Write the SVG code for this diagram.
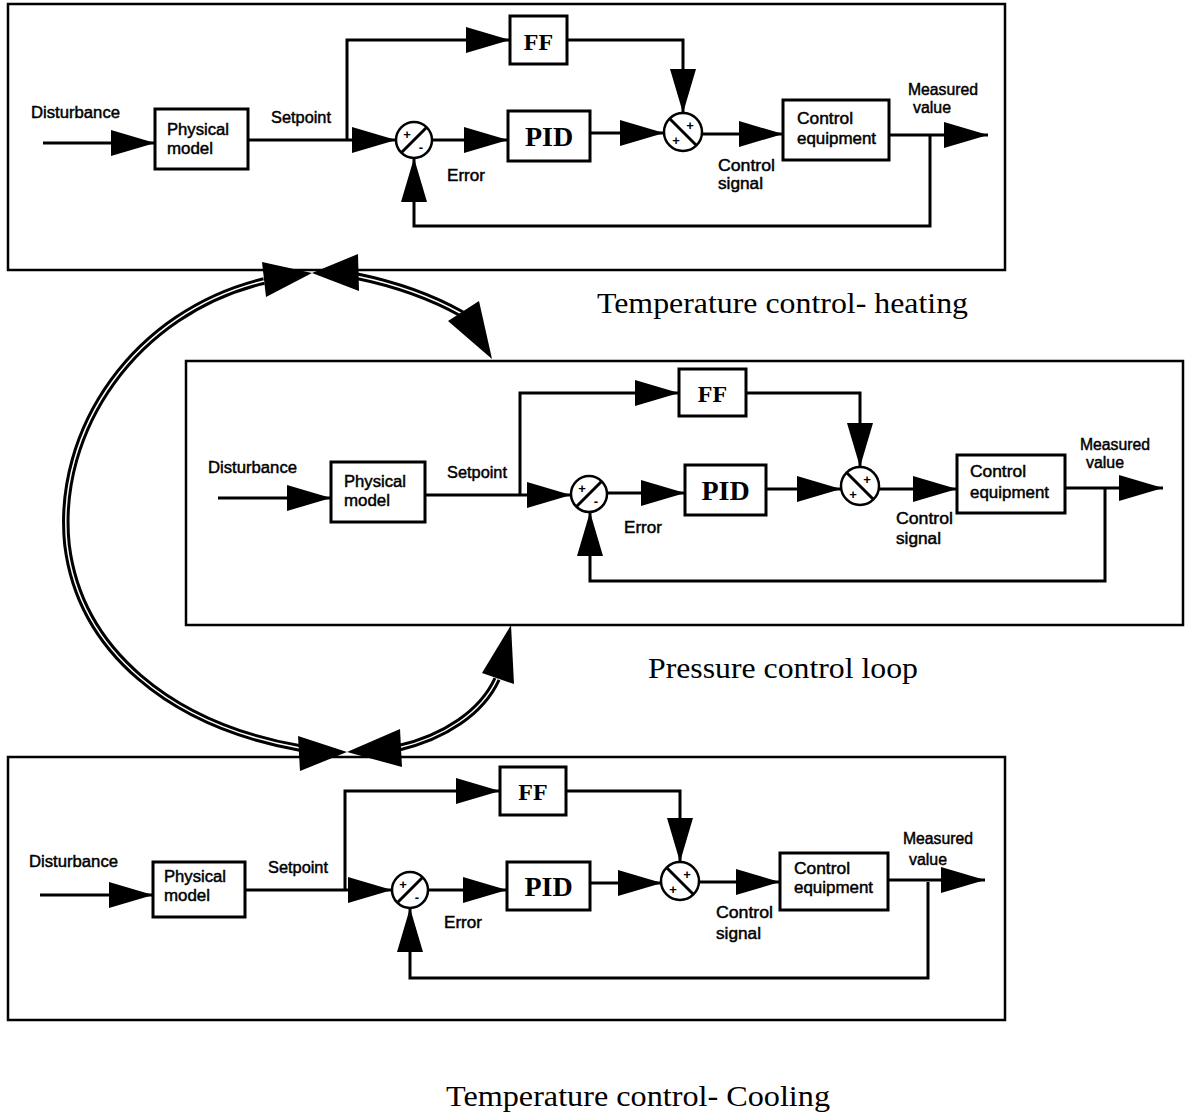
<svg xmlns="http://www.w3.org/2000/svg" width="1186" height="1116" viewBox="0 0 1186 1116">
  <defs>
    <marker id="tri" viewBox="0 0 44 26" refX="44" refY="13" markerWidth="44" markerHeight="26" markerUnits="userSpaceOnUse" orient="auto">
      <path d="M0,0 L44,13 L0,26 Z" fill="#000"/>
    </marker>
    <style>
      .frame { fill: none; stroke: #000; stroke-width: 2.5; }
      .box { fill: #fff; stroke: #000; stroke-width: 3; }
      .arrow { fill: none; stroke: #000; stroke-width: 3; marker-end: url(#tri); }
      .sum { fill: #fff; stroke: #000; stroke-width: 2.5; }
      .slash { stroke: #000; stroke-width: 3; }
      .lbl { font-family: "Liberation Sans", Arial, sans-serif; font-size: 16px; fill: #000; stroke: #000; stroke-width: 0.45; }
      .blk { font-family: "Liberation Serif", "Times New Roman", serif; font-weight: bold; fill: #000; text-anchor: middle; }
      .sign { font-family: "Liberation Sans", Arial, sans-serif; font-size: 13px; font-weight: bold; fill: #000; text-anchor: middle; }
      .title { font-family: "Liberation Serif", "Times New Roman", serif; font-size: 29px; fill: #000; }
      .rail { fill: none; stroke: #000; stroke-width: 7.5; }
      .gap { fill: none; stroke: #fff; stroke-width: 1.5; }
    </style>
  </defs>
  <rect width="1186" height="1116" fill="#fff"/>

  <!-- ===== Temperature control - heating ===== -->
  <g id="heating">
    <rect class="frame" x="8" y="4" width="997" height="266"/>
    <g id="h-connectors">
      <line class="arrow" x1="43" y1="143" x2="155" y2="143"/>
      <line class="arrow" x1="248" y1="140" x2="396" y2="140"/>
      <polyline class="arrow" points="347,140 347,40 510,40"/>
      <polyline class="arrow" points="567,40 683,40 683,113"/>
      <polyline class="arrow" points="930,135 930,226 414,226 414,158"/>
      <line class="arrow" x1="432" y1="140" x2="508" y2="140"/>
      <line class="arrow" x1="590" y1="133" x2="664" y2="133"/>
      <line class="arrow" x1="702" y1="134" x2="783" y2="134"/>
      <line class="arrow" x1="889" y1="135" x2="988" y2="135"/>
    </g>
    <text class="lbl" x="31" y="118" textLength="89" lengthAdjust="spacingAndGlyphs">Disturbance</text>
    <g id="h-model">
      <rect class="box" x="155" y="109" width="93" height="60"/>
      <text class="lbl" x="167" y="135" textLength="62" lengthAdjust="spacingAndGlyphs">Physical</text>
      <text class="lbl" x="167" y="154" textLength="46" lengthAdjust="spacingAndGlyphs">model</text>
    </g>
    <text class="lbl" x="271" y="123" textLength="60" lengthAdjust="spacingAndGlyphs">Setpoint</text>
    <g id="h-ff">
      <rect class="box" x="510" y="16" width="57" height="48"/>
      <text class="blk" x="538.5" y="50" font-size="24">FF</text>
    </g>
    <g id="h-err">
      <circle class="sum" cx="414" cy="140" r="18"/>
      <line class="slash" x1="401" y1="153" x2="427" y2="127"/>
      <text class="sign" x="407" y="139">+</text>
      <text class="sign" x="421" y="152">-</text>
    </g>
    <text class="lbl" x="447" y="181" textLength="38" lengthAdjust="spacingAndGlyphs">Error</text>
    <g id="h-pid">
      <rect class="box" x="508" y="111" width="82" height="50"/>
      <text class="blk" x="549" y="146" font-size="28">PID</text>
    </g>
    <g id="h-add">
      <circle class="sum" cx="683" cy="132" r="19"/>
      <line class="slash" x1="670" y1="119" x2="696" y2="145"/>
      <text class="sign" x="690" y="130">+</text>
      <text class="sign" x="676" y="145">+</text>
    </g>
    <text class="lbl" x="718" y="171" textLength="57" lengthAdjust="spacingAndGlyphs">Control</text>
    <text class="lbl" x="718" y="189" textLength="45" lengthAdjust="spacingAndGlyphs">signal</text>
    <g id="h-equip">
      <rect class="box" x="783" y="100" width="106" height="60"/>
      <text class="lbl" x="797" y="124" textLength="56" lengthAdjust="spacingAndGlyphs">Control</text>
      <text class="lbl" x="797" y="144" textLength="79" lengthAdjust="spacingAndGlyphs">equipment</text>
    </g>
    <text class="lbl" x="908" y="95" textLength="70" lengthAdjust="spacingAndGlyphs">Measured</text>
    <text class="lbl" x="913" y="113" textLength="38" lengthAdjust="spacingAndGlyphs">value</text>
    <text class="title" x="597" y="313" textLength="371" lengthAdjust="spacingAndGlyphs">Temperature control- heating</text>
  </g>

  <!-- ===== Pressure control loop ===== -->
  <g id="pressure">
    <rect class="frame" x="186" y="361" width="997" height="264"/>
    <g id="p-connectors">
      <line class="arrow" x1="218" y1="498" x2="331" y2="498"/>
      <line class="arrow" x1="425" y1="495" x2="571" y2="495"/>
      <polyline class="arrow" points="520,495 520,393 679,393"/>
      <polyline class="arrow" points="746,393 860,393 860,467"/>
      <polyline class="arrow" points="1105,488 1105,581 590,581 590,512"/>
      <line class="arrow" x1="607" y1="493" x2="685" y2="493"/>
      <line class="arrow" x1="766" y1="489" x2="841" y2="489"/>
      <line class="arrow" x1="879" y1="489" x2="957" y2="489"/>
      <line class="arrow" x1="1065" y1="488" x2="1163" y2="488"/>
    </g>
    <text class="lbl" x="208" y="473" textLength="89" lengthAdjust="spacingAndGlyphs">Disturbance</text>
    <g id="p-model">
      <rect class="box" x="331" y="462" width="94" height="60"/>
      <text class="lbl" x="344" y="487" textLength="62" lengthAdjust="spacingAndGlyphs">Physical</text>
      <text class="lbl" x="344" y="506" textLength="46" lengthAdjust="spacingAndGlyphs">model</text>
    </g>
    <text class="lbl" x="447" y="478" textLength="60" lengthAdjust="spacingAndGlyphs">Setpoint</text>
    <g id="p-ff">
      <rect class="box" x="679" y="369" width="67" height="47"/>
      <text class="blk" x="712.5" y="402" font-size="24">FF</text>
    </g>
    <g id="p-err">
      <circle class="sum" cx="589" cy="494" r="18"/>
      <line class="slash" x1="576" y1="507" x2="602" y2="481"/>
      <text class="sign" x="582" y="493">+</text>
      <text class="sign" x="596" y="506">-</text>
    </g>
    <text class="lbl" x="624" y="533" textLength="38" lengthAdjust="spacingAndGlyphs">Error</text>
    <g id="p-pid">
      <rect class="box" x="685" y="465" width="81" height="50"/>
      <text class="blk" x="725.5" y="500" font-size="28">PID</text>
    </g>
    <g id="p-add">
      <circle class="sum" cx="860" cy="486" r="19"/>
      <line class="slash" x1="847" y1="473" x2="873" y2="499"/>
      <text class="sign" x="867" y="484">+</text>
      <text class="sign" x="853" y="499">+</text>
    </g>
    <text class="lbl" x="896" y="524" textLength="57" lengthAdjust="spacingAndGlyphs">Control</text>
    <text class="lbl" x="896" y="544" textLength="45" lengthAdjust="spacingAndGlyphs">signal</text>
    <g id="p-equip">
      <rect class="box" x="957" y="455" width="108" height="58"/>
      <text class="lbl" x="970" y="477" textLength="56" lengthAdjust="spacingAndGlyphs">Control</text>
      <text class="lbl" x="970" y="498" textLength="79" lengthAdjust="spacingAndGlyphs">equipment</text>
    </g>
    <text class="lbl" x="1080" y="450" textLength="70" lengthAdjust="spacingAndGlyphs">Measured</text>
    <text class="lbl" x="1086" y="468" textLength="38" lengthAdjust="spacingAndGlyphs">value</text>
    <text class="title" x="648" y="678" textLength="270" lengthAdjust="spacingAndGlyphs">Pressure control loop</text>
  </g>

  <!-- ===== Temperature control - cooling ===== -->
  <g id="cooling">
    <rect class="frame" x="8" y="757" width="997" height="263"/>
    <g id="c-connectors">
      <line class="arrow" x1="40" y1="895" x2="153" y2="895"/>
      <line class="arrow" x1="245" y1="890" x2="392" y2="890"/>
      <polyline class="arrow" points="345,890 345,791 500,791"/>
      <polyline class="arrow" points="566,791 680,791 680,862"/>
      <polyline class="arrow" points="928,882 928,978 410,978 410,908"/>
      <line class="arrow" x1="428" y1="890" x2="507" y2="890"/>
      <line class="arrow" x1="590" y1="883" x2="662" y2="883"/>
      <line class="arrow" x1="698" y1="882" x2="780" y2="882"/>
      <line class="arrow" x1="888" y1="880" x2="985" y2="880"/>
    </g>
    <text class="lbl" x="29" y="867" textLength="89" lengthAdjust="spacingAndGlyphs">Disturbance</text>
    <g id="c-model">
      <rect class="box" x="153" y="862" width="92" height="55"/>
      <text class="lbl" x="164" y="882" textLength="62" lengthAdjust="spacingAndGlyphs">Physical</text>
      <text class="lbl" x="164" y="901" textLength="46" lengthAdjust="spacingAndGlyphs">model</text>
    </g>
    <text class="lbl" x="268" y="873" textLength="60" lengthAdjust="spacingAndGlyphs">Setpoint</text>
    <g id="c-ff">
      <rect class="box" x="500" y="767" width="66" height="48"/>
      <text class="blk" x="533" y="800" font-size="24">FF</text>
    </g>
    <g id="c-err">
      <circle class="sum" cx="410" cy="890" r="18"/>
      <line class="slash" x1="397" y1="903" x2="423" y2="877"/>
      <text class="sign" x="403" y="889">+</text>
      <text class="sign" x="417" y="902">-</text>
    </g>
    <text class="lbl" x="444" y="928" textLength="38" lengthAdjust="spacingAndGlyphs">Error</text>
    <g id="c-pid">
      <rect class="box" x="507" y="862" width="83" height="48"/>
      <text class="blk" x="548.5" y="896" font-size="28">PID</text>
    </g>
    <g id="c-add">
      <circle class="sum" cx="680" cy="881" r="19"/>
      <line class="slash" x1="667" y1="868" x2="693" y2="894"/>
      <text class="sign" x="687" y="879">+</text>
      <text class="sign" x="673" y="894">+</text>
    </g>
    <text class="lbl" x="716" y="918" textLength="57" lengthAdjust="spacingAndGlyphs">Control</text>
    <text class="lbl" x="716" y="939" textLength="45" lengthAdjust="spacingAndGlyphs">signal</text>
    <g id="c-equip">
      <rect class="box" x="780" y="853" width="108" height="57"/>
      <text class="lbl" x="794" y="874" textLength="56" lengthAdjust="spacingAndGlyphs">Control</text>
      <text class="lbl" x="794" y="893" textLength="79" lengthAdjust="spacingAndGlyphs">equipment</text>
    </g>
    <text class="lbl" x="903" y="844" textLength="70" lengthAdjust="spacingAndGlyphs">Measured</text>
    <text class="lbl" x="909" y="865" textLength="38" lengthAdjust="spacingAndGlyphs">value</text>
    <text class="title" x="446" y="1106" textLength="384" lengthAdjust="spacingAndGlyphs">Temperature control- Cooling</text>
  </g>

  <!-- ===== Double-line links between the loops ===== -->
  <g id="links">
    <path class="rail" d="M264,281 C135,312 55,430 67,545 C80,650 170,725 300,748"/>
    <path class="gap" d="M264,281 C135,312 55,430 67,545 C80,650 170,725 300,748"/>
    <path class="rail" d="M356,276 C395,284 430,296 462,314"/>
    <path class="gap" d="M356,276 C395,284 430,296 462,314"/>
    <path class="rail" d="M398,748 C445,737 482,712 497,679"/>
    <path class="gap" d="M398,748 C445,737 482,712 497,679"/>
    <!-- bow-tie arrowheads -->
    <polygon points="262,262 266,297 312,273" fill="#000"/>
    <polygon points="358,254 359,291 312,273" fill="#000"/>
    <polygon points="298,736 300,771 347,752" fill="#000"/>
    <polygon points="400,729 402,767 347,752" fill="#000"/>
    <!-- arrowheads into the pressure loop -->
    <polygon points="448,321 479,301 492,359" fill="#000"/>
    <polygon points="482,673 514,684 511,625" fill="#000"/>
  </g>
</svg>
